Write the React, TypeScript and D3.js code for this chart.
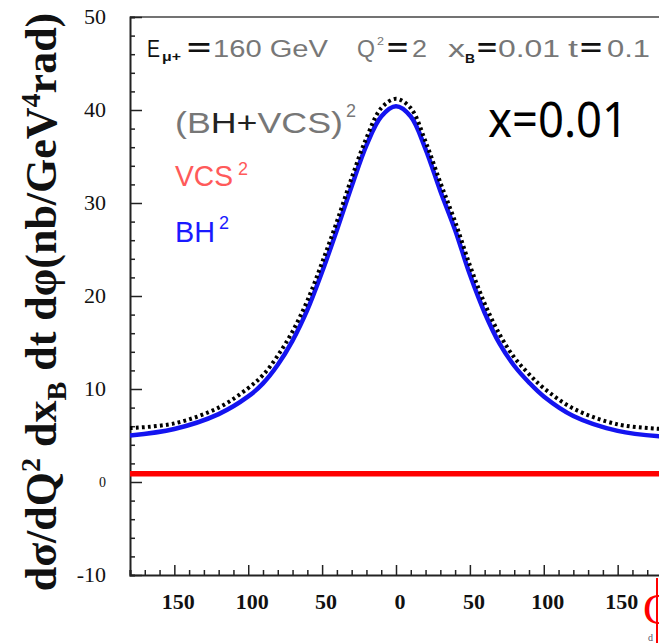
import React, { useEffect, useRef } from "react";
import * as d3 from "d3";

// phi in degrees, cross sections in nb/GeV^4 rad
const phi = [-180, -150, -120, -100, -90, -80, -70, -60, -50, -40, -30, -20, -10, 0, 10, 20, 30, 40, 50, 60, 70, 80, 90, 100, 120, 150, 180];
const bhSq = [5.0, 5.7, 7.3, 9.2, 10.6, 12.6, 15.2, 18.5, 22.6, 27.1, 31.8, 36.2, 39.3, 40.4, 39.3, 35.8, 31.3, 27.1, 22.3, 18.2, 14.9, 12.5, 10.7, 9.2, 7.1, 5.5, 4.9];
const totalSq = [5.8, 6.3, 8.0, 10.1, 11.5, 13.6, 16.2, 19.5, 23.6, 28.0, 32.7, 37.0, 40.2, 41.2, 40.2, 36.6, 32.2, 28.0, 23.3, 19.2, 15.9, 13.4, 11.6, 10.1, 7.9, 6.2, 5.7];
const vcsPhi = [-180, 0, 180];
const vcsSq = [0.9, 0.9, 0.9];

const yTicks = [-10, 0, 10, 20, 30, 40, 50];
const xTicks = [-150, -100, -50, 0, 50, 100, 150];

export default function App() {
  const ref = useRef<HTMLDivElement>(null);

  useEffect(() => {
    const root = d3.select(ref.current);
    root.selectAll("*").remove();

    const W = 659, H = 643;
    const left = 130, top = 17, bottom = 575, right = 662;

    const svg = root.append("svg").attr("width", W).attr("height", H)
      .style("position", "absolute").style("left", 0).style("top", 0)
      .style("background", "#fff");

    const x = d3.scaleLinear().domain([-180, 180]).range([left, right]);
    const y = d3.scaleLinear().domain([-10, 50]).range([bottom, top]);

    const serif = "'Liberation Serif', 'Times New Roman', serif";
    const sans = "'Liberation Sans', Arial, sans-serif";

    svg.append("defs").append("clipPath").attr("id", "plot")
      .append("rect").attr("x", left).attr("y", top).attr("width", right - left).attr("height", bottom - top);

    // frame
    svg.append("line").attr("x1", left).attr("x2", W).attr("y1", top).attr("y2", top)
      .attr("stroke", "#444").attr("stroke-width", 1.5);

    // y axis with inward ticks
    const yAxis = svg.append("g").attr("transform", `translate(${left},0)`)
      .call(d3.axisRight(y).tickValues(d3.range(-10, 51, 2)).tickSize(5).tickFormat(() => ""));
    yAxis.select(".domain").attr("stroke", "#222").attr("stroke-width", 2);
    yAxis.selectAll(".tick line").attr("stroke", "#222").attr("stroke-width", 1.5)
      .attr("x2", (d: any) => (d % 10 === 0 ? 12 : 5));

    yTicks.forEach((v) => {
      svg.append("text").attr("x", 106).attr("y", y(v)).attr("dy", v === 0 ? "0.35em" : "0.33em")
        .attr("text-anchor", "end").attr("font-family", serif)
        .attr("font-size", v === 0 ? 14 : 22).attr("fill", "#111")
        .text(String(v));
    });

    // x axis with inward ticks
    const xAxis = svg.append("g").attr("transform", `translate(0,${bottom})`)
      .call(d3.axisTop(x).tickValues(d3.range(-180, 181, 10)).tickSize(5).tickFormat(() => ""));
    xAxis.select(".domain").attr("stroke", "#222").attr("stroke-width", 2);
    xAxis.selectAll(".tick line").attr("stroke", "#222").attr("stroke-width", 1.5)
      .attr("y2", (d: any) => (d % 50 === 0 ? -10 : -5));

    xTicks.forEach((v) => {
      svg.append("text").attr("x", x(v) + 4).attr("y", 609)
        .attr("text-anchor", "middle").attr("font-family", serif).attr("font-weight", "bold")
        .attr("font-size", 22).attr("fill", "#111")
        .text(String(Math.abs(v)));
    });

    // curves
    const line = d3.line<number>().x((_, i) => x(phi[i])).y((d) => y(d)).curve(d3.curveCatmullRom.alpha(0.5));
    const plot = svg.append("g").attr("clip-path", "url(#plot)");

    plot.append("path").attr("d", line(bhSq)).attr("fill", "none")
      .attr("stroke", "#1414f0").attr("stroke-width", 4.5);
    plot.append("path").attr("d", line(totalSq)).attr("fill", "none")
      .attr("stroke", "#000").attr("stroke-width", 4).attr("stroke-dasharray", "2.8,3.2");
    const vline = d3.line<number>().x((_, i) => x(vcsPhi[i])).y((d) => y(d));
    plot.append("path").attr("d", vline(vcsSq)).attr("fill", "none")
      .attr("stroke", "#ff0000").attr("stroke-width", 5.5);

    // header line
    const head = svg.append("g").attr("font-family", sans).attr("font-size", 23);
    const piece = (tx: string, x0: number, w: number, yy: number, fill: string, size = 23, weight = "normal") =>
      head.append("text").attr("x", x0).attr("y", yy).attr("fill", fill)
        .attr("font-size", size).attr("font-weight", weight)
        .attr("textLength", w).attr("lengthAdjust", "spacingAndGlyphs").text(tx);
    piece("E", 147, 13, 57, "#111");
    piece("\u03bc+", 162, 19, 61, "#111", 12, "bold");
    piece("=", 187, 24, 56, "#111", 24, "bold");
    piece("160 GeV", 213, 115, 57, "#777");
    piece("Q", 357, 18, 57, "#777");
    piece("2", 377, 7, 45, "#777", 11);
    piece("=", 387, 21, 56, "#111", 24, "bold");
    piece("2", 412, 15, 57, "#777");
    piece("x", 448, 17, 57, "#777");
    piece("B", 465, 10, 63, "#111", 12, "bold");
    piece("=", 477, 20, 56, "#111", 24, "bold");
    piece("0.01", 498, 62, 57, "#777");
    piece("t", 568, 10, 57, "#777");
    piece("=", 580, 22, 56, "#111", 24, "bold");
    piece("0.1", 607, 43, 57, "#777");

    // legend
    const leg = svg.append("g").attr("font-family", sans);
    const lt = leg.append("text").attr("x", 175).attr("y", 133).attr("font-size", 30)
      .attr("textLength", 168).attr("lengthAdjust", "spacingAndGlyphs");
    lt.append("tspan").attr("fill", "#777").text("(B");
    lt.append("tspan").attr("fill", "#222").text("H+");
    lt.append("tspan").attr("fill", "#777").text("VCS)");
    leg.append("text").attr("x", 346).attr("y", 117).attr("font-size", 18).attr("fill", "#777").text("2");

    leg.append("text").attr("x", 175).attr("y", 186).attr("font-size", 30).attr("fill", "#ff5a5a")
      .attr("textLength", 58).attr("lengthAdjust", "spacingAndGlyphs").text("VCS");
    leg.append("text").attr("x", 238).attr("y", 175).attr("font-size", 18).attr("fill", "#ff5a5a").text("2");

    leg.append("text").attr("x", 175).attr("y", 242).attr("font-size", 30).attr("fill", "#1a1aff")
      .attr("textLength", 40).attr("lengthAdjust", "spacingAndGlyphs").text("BH");
    leg.append("text").attr("x", 219).attr("y", 229).attr("font-size", 18).attr("fill", "#1a1aff").text("2");

    svg.append("text").attr("x", 488).attr("y", 137).attr("font-family", "'Noto Sans', sans-serif")
      .attr("font-size", 50).attr("fill", "#000")
      .attr("textLength", 140).attr("lengthAdjust", "spacingAndGlyphs").text("x=0.01");

    // y axis title
    const yt = svg.append("text").attr("transform", "translate(56,302) rotate(-90)")
      .attr("text-anchor", "middle").attr("font-family", serif).attr("font-weight", "bold")
      .attr("font-size", 44).attr("fill", "#111");
    yt.append("tspan").text("d\u03c3/dQ");
    yt.append("tspan").attr("dy", -16).attr("font-size", 28).text("2");
    yt.append("tspan").attr("dy", 16).text(" dx");
    yt.append("tspan").attr("dy", 10).attr("font-size", 28).text("B");
    yt.append("tspan").attr("dy", -10).text(" dt d\u03c6(nb/GeV");
    yt.append("tspan").attr("dy", -16).attr("font-size", 28).text("4");
    yt.append("tspan").attr("dy", 16).text("rad)");

    // cut-off neighbour panel at the right edge
    svg.append("text").attr("x", 643).attr("y", 624).attr("font-family", serif)
      .attr("font-size", 44).attr("fill", "#ff0000").text("C");
    svg.append("line").attr("x1", 657).attr("x2", 657).attr("y1", 578).attr("y2", H)
      .attr("stroke", "#ff0000").attr("stroke-width", 2);
    svg.append("text").attr("x", 648).attr("y", 641).attr("font-family", serif)
      .attr("font-size", 10).attr("fill", "#556").text("d");
  }, []);

  return <div ref={ref} style={{ width: 659, height: 643 }}></div>;
}
